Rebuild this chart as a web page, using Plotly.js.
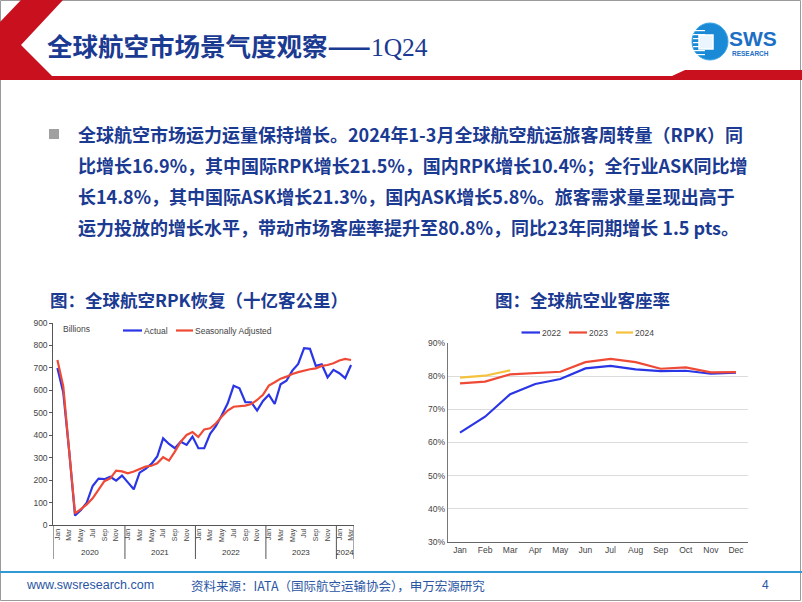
<!DOCTYPE html>
<html>
<head>
<meta charset="utf-8">
<script src="https://cdn.plot.ly/plotly-3.0.1.min.js"></script>
<style>
html,body{margin:0;padding:0;background:#fff;}
#chart{width:802px;height:602px;}
</style>
</head>
<body>
<div id="chart"></div>
<script>
// ---------- DATA ----------
const rpkYears = [2020, 2021, 2022, 2023, 2024];
const monthNames = ['Jan','Feb','Mar','Apr','May','Jun','Jul','Aug','Sep','Oct','Nov','Dec'];
const rpkMonthsPerYear = [12, 12, 12, 12, 3];
// Global RPK, billions (Jan 2020 - Mar 2024)
const rpkActual = [700,590,330,42,67,100,174,207,204,215,198,220,
                   190,159,233,250,272,305,386,361,342,371,357,394,
                   342,342,406,441,490,542,620,609,547,547,510,553,
                   580,539,627,643,688,718,788,785,709,716,658,691,
                   676,654,713];
const rpkSA = [735,617,330,52,71,92,119,156,195,208,242,239,
               230,238,250,260,264,275,302,287,327,371,401,414,
               392,426,431,453,483,510,527,530,532,539,557,580,
               621,636,652,661,673,681,688,694,698,709,713,721,
               733,740,735];
const rpkSeriesNames = ['Actual', 'Seasonally Adjusted'];
const rpkYLabel = 'Billions';

// Passenger load factor (%)
const plfMonths = ['Jan','Feb','Mar','Apr','May','Jun','Jul','Aug','Sep','Oct','Nov','Dec'];
const plf2022 = [63.0,67.8,74.6,77.7,79.2,82.4,83.2,82.1,81.6,81.7,80.8,81.1];
const plf2023 = [77.9,78.4,80.6,81.0,81.4,84.3,85.3,84.3,82.3,82.7,81.2,81.3];
const plf2024 = [79.6,80.2,81.8];
const plfSeriesNames = ['2022','2023','2024'];

// Texts
const headerTitle = '全球航空市场景气度观察——';
const headerTitleTail = '1Q24';
const bodyLines = [
  '全球航空市场运力运量保持增长。2024年1-3月全球航空航运旅客周转量（RPK）同',
  '比增长16.9%，其中国际RPK增长21.5%，国内RPK增长10.4%；全行业ASK同比增',
  '长14.8%，其中国际ASK增长21.3%，国内ASK增长5.8%。旅客需求量呈现出高于',
  '运力投放的增长水平，带动市场客座率提升至80.8%，同比23年同期增长 1.5 pts。'
];
const leftTitle = '图：全球航空RPK恢复（十亿客公里）';
const rightTitle = '图：全球航空业客座率';
const footerSite = 'www.swsresearch.com';
const footerSource = '资料来源：IATA（国际航空运输协会），申万宏源研究';
const pageNumber = '4';

// ---------- STYLE ----------
const W = 802, H = 602;
const px = x => x / W;
const py = y => 1 - y / H;
const CJK = '"Noto Sans CJK SC", "Noto Sans", sans-serif';
const SANS = '"Liberation Sans", Arial, sans-serif';
const NAVY = '#1b3a92';
const cBlue = '#2a35e6', cRed = '#ef4a36', cYellow = '#f4c23c';

// ---------- BUILD ----------
const rpkX = rpkActual.map((_, i) => i);
const rpkMonthIdx = [];
const rpkYearStart = [];
rpkYears.forEach((yr, k) => {
  rpkYearStart.push(rpkMonthIdx.length);
  for (let m = 0; m < rpkMonthsPerYear[k]; m++) rpkMonthIdx.push(m);
});
const tickvals = [], ticktext = [];
rpkMonthIdx.forEach((m, i) => { if (m % 2 === 0) { tickvals.push(i); ticktext.push(monthNames[m]); } });
const xRangeL = [-0.7, rpkX.length - 0.5];

const traces = [
  {x: rpkX, y: rpkActual, type: 'scatter', mode: 'lines', name: rpkSeriesNames[0],
   line: {color: cBlue, width: 2.2}, xaxis: 'x', yaxis: 'y', hoverinfo: 'skip'},
  {x: rpkX, y: rpkSA, type: 'scatter', mode: 'lines', name: rpkSeriesNames[1],
   line: {color: cRed, width: 2.2}, xaxis: 'x', yaxis: 'y', hoverinfo: 'skip'},
  {x: plfMonths, y: plf2022, type: 'scatter', mode: 'lines', name: plfSeriesNames[0],
   line: {color: cBlue, width: 2.2}, xaxis: 'x2', yaxis: 'y2', hoverinfo: 'skip'},
  {x: plfMonths, y: plf2023, type: 'scatter', mode: 'lines', name: plfSeriesNames[1],
   line: {color: cRed, width: 2.2}, xaxis: 'x2', yaxis: 'y2', hoverinfo: 'skip'},
  {x: plfMonths.slice(0, plf2024.length), y: plf2024, type: 'scatter', mode: 'lines', name: plfSeriesNames[2],
   line: {color: cYellow, width: 2.2}, xaxis: 'x2', yaxis: 'y2', hoverinfo: 'skip'}
];

const shapes = [];
const annotations = [];

// slide frame
shapes.push({type: 'rect', xref: 'paper', yref: 'paper', x0: px(0.5), x1: px(800.5), y0: py(600.5), y1: py(0.5),
  line: {color: '#9a9a9a', width: 1}, fillcolor: 'rgba(0,0,0,0)', layer: 'below'});

// header red chevron + band
const hp = [[21,0],[63,0],[21,45],[52,76],[672,76],[685,70],[802,70],[802,80],[0,80],[0,22]];
shapes.push({type: 'path', xref: 'paper', yref: 'paper',
  path: 'M' + hp.map(p => px(p[0]) + ',' + py(p[1])).join(' L') + ' Z',
  fillcolor: '#c8101e', line: {width: 0}});

// logo
shapes.push({type: 'circle', xref: 'paper', yref: 'paper', x0: px(692), x1: px(728), y0: py(60), y1: py(23),
  fillcolor: '#1a8ad6', line: {color: '#3aa6e6', width: 1}});
[30, 34, 38, 42, 46, 50, 54].forEach(y => {
  shapes.push({type: 'rect', xref: 'paper', yref: 'paper', x0: px(693), x1: px(705), y0: py(y + 1.2), y1: py(y),
    fillcolor: '#ffffff', line: {width: 0}});
});
shapes.push({type: 'rect', xref: 'paper', yref: 'paper', x0: px(699), x1: px(713), y0: py(49), y1: py(35),
  fillcolor: '#eaf5fd', line: {color: '#ffffff', width: 1.5}});
annotations.push({text: '<b>SWS</b>', xref: 'paper', yref: 'paper', x: px(727), y: py(38.5), xanchor: 'left', yanchor: 'middle',
  showarrow: false, font: {family: SANS, size: 21, color: '#1c6fc4'}});
annotations.push({text: '<b>RESEARCH</b>', xref: 'paper', yref: 'paper', x: px(730), y: py(53.5), xanchor: 'left', yanchor: 'middle',
  showarrow: false, font: {family: SANS, size: 6.5, color: '#1c6fc4'}});

// header title
annotations.push({text: '<b>' + headerTitle + '</b><span style="font-family:Liberation Serif">' + headerTitleTail + '</span>',
  xref: 'paper', yref: 'paper', x: px(45), y: py(45), xanchor: 'left', yanchor: 'middle', showarrow: false,
  font: {family: CJK, size: 25.5, color: NAVY}});

// bullet
shapes.push({type: 'rect', xref: 'paper', yref: 'paper', x0: px(49), x1: px(59), y0: py(139), y1: py(129),
  fillcolor: '#a0a0a0', line: {width: 0}});
const lineY = [134, 165, 196, 227];
bodyLines.forEach((t, i) => {
  annotations.push({text: '<b>' + t + '</b>', xref: 'paper', yref: 'paper', x: px(76), y: py(lineY[i]),
    xanchor: 'left', yanchor: 'middle', showarrow: false, font: {family: CJK, size: 18, color: NAVY}});
});

// chart titles
annotations.push({text: '<b>' + leftTitle + '</b>', xref: 'paper', yref: 'paper', x: px(199), y: py(300),
  xanchor: 'center', yanchor: 'middle', showarrow: false, font: {family: CJK, size: 17.5, color: NAVY}});
annotations.push({text: '<b>' + rightTitle + '</b>', xref: 'paper', yref: 'paper', x: px(582), y: py(300),
  xanchor: 'center', yanchor: 'middle', showarrow: false, font: {family: CJK, size: 17.5, color: NAVY}});

// left chart: year separators and labels
const sepIdx = rpkYearStart.map(i => i - 0.5).concat([rpkX.length - 0.5]);
sepIdx[0] = xRangeL[0];
sepIdx.forEach(v => {
  shapes.push({type: 'line', xref: 'x', yref: 'paper', x0: v, x1: v, y0: py(525), y1: py(559),
    line: {color: '#555', width: 1}});
});
rpkYears.forEach((yr, k) => {
  const a = rpkYearStart[k] - 0.5, b = a + rpkMonthsPerYear[k];
  annotations.push({text: String(yr), xref: 'x', yref: 'paper', x: (a + b) / 2, y: py(552),
    xanchor: 'center', yanchor: 'middle', showarrow: false, font: {family: SANS, size: 8, color: '#333'}});
});
annotations.push({text: rpkYLabel, xref: 'paper', yref: 'paper', x: px(61), y: py(329), xanchor: 'left', yanchor: 'middle',
  showarrow: false, font: {family: SANS, size: 8.5, color: '#444'}});

// manual legends
function legendItem(x0, x1, y, color, label) {
  shapes.push({type: 'line', xref: 'paper', yref: 'paper', x0: px(x0), x1: px(x1), y0: py(y), y1: py(y),
    line: {color: color, width: 2.2}});
  annotations.push({text: label, xref: 'paper', yref: 'paper', x: px(x1), y: py(y), xanchor: 'left', yanchor: 'middle',
    showarrow: false, font: {family: SANS, size: 8.5, color: '#444'}});
}
legendItem(123, 142, 330.5, cBlue, rpkSeriesNames[0]);
legendItem(176, 193, 330.5, cRed, rpkSeriesNames[1]);
legendItem(521.5, 540, 332.5, cBlue, plfSeriesNames[0]);
legendItem(569, 587, 332.5, cRed, plfSeriesNames[1]);
legendItem(616, 633, 332.5, cYellow, plfSeriesNames[2]);

// footer
shapes.push({type: 'line', xref: 'paper', yref: 'paper', x0: 0, x1: 1, y0: py(572), y1: py(572),
  line: {color: '#2f9ad4', width: 2}});
annotations.push({text: footerSite, xref: 'paper', yref: 'paper', x: px(24), y: py(585), xanchor: 'left', yanchor: 'middle',
  showarrow: false, font: {family: SANS, size: 12.5, color: '#2a55a3'}});
annotations.push({text: footerSource, xref: 'paper', yref: 'paper', x: px(189), y: py(585), xanchor: 'left', yanchor: 'middle',
  showarrow: false, font: {family: CJK, size: 12.5, color: '#2a55a3'}});
annotations.push({text: pageNumber, xref: 'paper', yref: 'paper', x: px(765), y: py(585), xanchor: 'center', yanchor: 'middle',
  showarrow: false, font: {family: SANS, size: 12, color: '#2a55a3'}});

const axisFont = {family: SANS, size: 8.5, color: '#444'};
const layout = {
  width: W, height: H,
  margin: {l: 0, r: 0, t: 0, b: 0, pad: 0},
  paper_bgcolor: '#ffffff', plot_bgcolor: 'rgba(0,0,0,0)',
  showlegend: false,
  xaxis: {domain: [px(53.3), px(354)], range: xRangeL, tickmode: 'array', tickvals: tickvals, ticktext: ticktext,
    tickangle: -90, tickfont: {family: SANS, size: 7, color: '#444'}, showgrid: false, zeroline: false,
    showline: true, linecolor: '#555', linewidth: 1, ticks: '', fixedrange: true, anchor: 'y'},
  yaxis: {domain: [py(525), py(323)], range: [0, 900], dtick: 100, tick0: 0, showgrid: false, zeroline: false,
    showline: true, linecolor: '#555', linewidth: 1, ticks: 'outside', ticklen: 3, tickcolor: '#555',
    tickfont: axisFont, fixedrange: true, anchor: 'x'},
  xaxis2: {domain: [px(447.7), px(748)], type: 'category', range: [-0.49, 11.48], showgrid: false, zeroline: false,
    showline: true, linecolor: '#666', linewidth: 1, ticks: '', tickfont: {family: SANS, size: 8.5, color: '#444'},
    anchor: 'y2', fixedrange: true},
  yaxis2: {domain: [py(541.7), py(343.3)], range: [30, 90], dtick: 10, tick0: 30, ticksuffix: '%', showgrid: true,
    gridcolor: '#dcdcdc', gridwidth: 1, zeroline: false, showline: true, linecolor: '#777', linewidth: 1, ticks: '',
    tickfont: axisFont, anchor: 'x2', fixedrange: true},
  shapes: shapes,
  annotations: annotations
};

Plotly.newPlot('chart', traces, layout, {displayModeBar: false, staticPlot: true});
</script>
</body>
</html>
